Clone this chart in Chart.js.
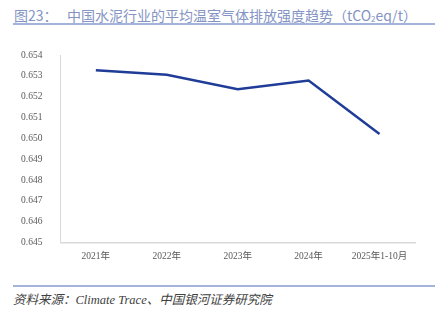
<!DOCTYPE html>
<html>
<head>
<meta charset="utf-8">
<script src="https://cdn.jsdelivr.net/npm/chart.js@4"></script>
<style>
  html, body { margin: 0; padding: 0; background: #fff; }
  body { width: 438px; height: 321px; position: relative; overflow: hidden; }
  .title {
    position: absolute; left: 14px; top: 5px;
    font-family: 'Noto Sans CJK SC', 'Noto Sans', sans-serif;
    font-size: 14px; color: #8494c4; white-space: nowrap; line-height: 20px;
  }
  .title sub { font-size: 8px; vertical-align: -1px; }
  .rule { position: absolute; left: 13px; width: 422px; height: 2px; background: #a3b3d9; }
  .source {
    position: absolute; left: 13px; top: 291px;
    font-family: 'Liberation Serif', 'Noto Sans CJK SC', serif;
    font-style: italic; font-size: 12.5px; color: #404040; white-space: nowrap; line-height: 18px;
  }
  #wrap { position: absolute; left: 0; top: 0; width: 438px; height: 280px; }
</style>
</head>
<body>
<div class="title">图23：&nbsp;&nbsp;&nbsp;中国水泥行业的平均温室气体排放强度趋势（tCO<sub>2</sub>eq/t）</div>
<div class="rule" style="top:23px"></div>
<div id="wrap"><canvas id="lineChart"></canvas></div>
<div class="rule" style="top:285px"></div>
<div class="source">资料来源：Climate Trace、中国银河证券研究院</div>
<script>
// chart data
const categories = ['2021年', '2022年', '2023年', '2024年', '2025年1-10月'];
const intensity = [0.65327, 0.65305, 0.65236, 0.65278, 0.65021];
const yTicks = [0.645, 0.646, 0.647, 0.648, 0.649, 0.650, 0.651, 0.652, 0.653, 0.654];

const ctx = document.getElementById('lineChart').getContext('2d');
const lineChart = new Chart(ctx, {
  type: 'line',
  data: {
    labels: categories,
    datasets: [{
      label: '平均温室气体排放强度',
      data: intensity,
      borderColor: '#1f3c98',
      borderWidth: 2.5,
      pointRadius: 0,
      tension: 0,
      fill: false
    }]
  },
  options: {
    responsive: true,
    maintainAspectRatio: false,
    animation: false,
    layout: { padding: { left: 11, right: 23, top: 55, bottom: 18 } },
    plugins: {
      legend: { display: false },
      tooltip: { enabled: false }
    },
    scales: {
      y: {
        min: yTicks[0],
        max: yTicks[yTicks.length - 1],
        afterBuildTicks: (axis) => { axis.ticks = yTicks.map(v => ({ value: v })); },
        ticks: {
          color: '#595959',
          padding: 10,
          font: { family: "'Liberation Serif', serif", size: 9.5 },
          callback: (v) => Number(v).toFixed(3)
        },
        grid: { display: false },
        border: { display: true, color: '#d9d9d9', width: 1 }
      },
      x: {
        offset: true,
        ticks: {
          color: '#595959',
          padding: 0,
          maxRotation: 0,
          font: { family: "'Liberation Serif', 'Noto Sans CJK SC', serif", size: 9.5 }
        },
        grid: { display: false },
        border: { display: true, color: '#d9d9d9', width: 1.5 }
      }
    }
  }
});
</script>
</body>
</html>
